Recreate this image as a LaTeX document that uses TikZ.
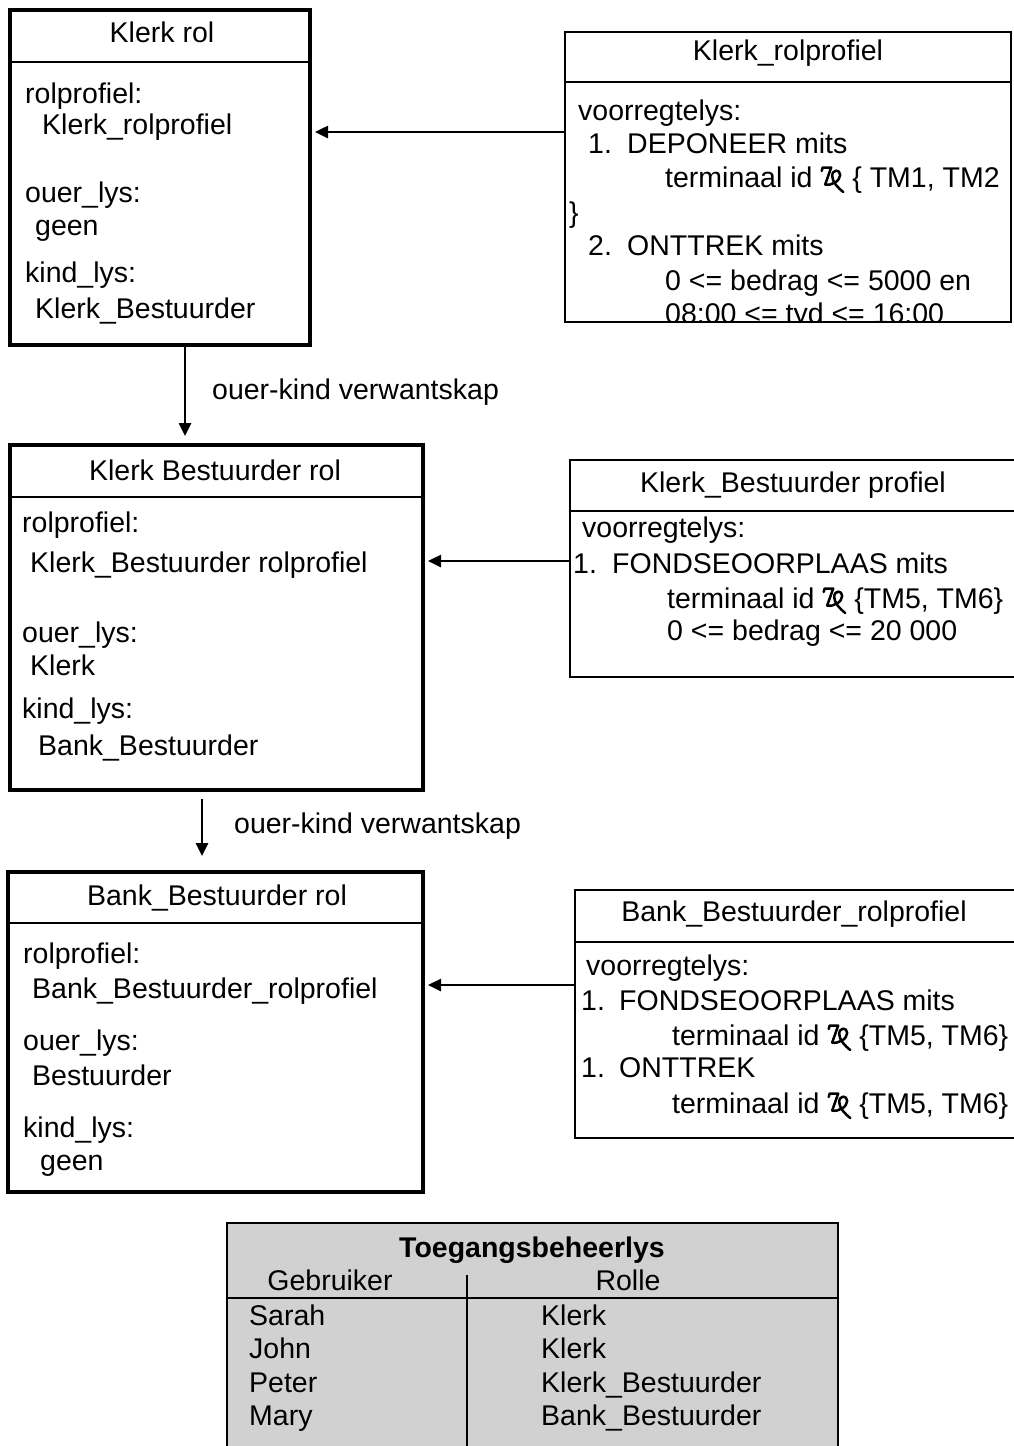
\documentclass[tikz,border=0pt]{standalone}
\usepackage{fontspec}
\setmainfont{Liberation Sans}
\usetikzlibrary{arrows.meta}

% membership sign used in the rule lists
\newcommand\elsym{\tikz[baseline=0pt,x=1pt,y=1pt,line width=2.5pt,line cap=round,line join=round]{%
  \draw (0.5,16) -- (1.5,19.5) -- (10,19.5) -- (4,2.5);
  \draw (4,2.5) .. controls (10,1) and (19,6) .. (19,12)
        .. controls (19,18) and (11,18) .. (11,11)
        .. controls (11,5) and (17,-1) .. (22,-5);}}

\tikzset{
  rolebox/.style={draw, line width=4pt, inner sep=0pt},
  profbox/.style={draw, line width=2.3pt, inner sep=0pt},
  divline/.style={line width=2.2pt},
  txt/.style={anchor=west, inner sep=0pt, text height=20pt, text depth=6pt},
  ttl/.style={anchor=center, inner sep=0pt, text height=20pt, text depth=6pt},
  arr/.style={line width=2.5pt, -{Triangle[length=13pt,width=12pt]}},
}

\begin{document}
\begin{tikzpicture}[x=1pt,y=-1pt,every node/.append style={font=\fontsize{28.5}{34}\selectfont}]
\useasboundingbox (0,0) rectangle (1014,1446);
\clip (0,0) rectangle (1014,1446);
\fill[white] (0,0) rectangle (1014,1446);

% ---------- role boxes ----------
\node[rolebox, minimum width=300pt, minimum height=335pt] (klerk) at (160,177.5) {};
\draw[divline] (10,62) -- (310,62);
\node[ttl] (klerkT) at (162,35) {Klerk rol};
\node[txt] (k1) at (25,96)  {rolprofiel:};
\node[txt] (k2) at (42,127) {Klerk\_rolprofiel};
\node[txt] (k3) at (25,195) {ouer\_lys:};
\node[txt] (k4) at (35,228) {geen};
\node[txt] (k5) at (25,275) {kind\_lys:};
\node[txt] (k6) at (35,311) {Klerk\_Bestuurder};

\node[rolebox, minimum width=413pt, minimum height=345pt] (kb) at (216.5,617.5) {};
\draw[divline] (10,497) -- (423,497);
\node[ttl] (kbT) at (215,473) {Klerk Bestuurder rol};
\node[txt] (b1) at (22,525) {rolprofiel:};
\node[txt] (b2) at (30,565) {Klerk\_Bestuurder rolprofiel};
\node[txt] (b3) at (22,635) {ouer\_lys:};
\node[txt] (b4) at (30,668) {Klerk};
\node[txt] (b5) at (22,711) {kind\_lys:};
\node[txt] (b6) at (38,748) {Bank\_Bestuurder};

\node[rolebox, minimum width=415pt, minimum height=320pt] (bb) at (215.5,1032) {};
\draw[divline] (8,923) -- (423,923);
\node[ttl] (bbT) at (217,898) {Bank\_Bestuurder rol};
\node[txt] (c1) at (23,956)  {rolprofiel:};
\node[txt] (c2) at (32,991)  {Bank\_Bestuurder\_rolprofiel};
\node[txt] (c3) at (23,1043) {ouer\_lys:};
\node[txt] (c4) at (32,1078) {Bestuurder};
\node[txt] (c5) at (23,1130) {kind\_lys:};
\node[txt] (c6) at (40,1163) {geen};

% ---------- profile boxes ----------
\node[profbox, minimum width=446pt, minimum height=290pt] (kp) at (788,177) {};
\draw[divline] (565,82) -- (1011,82);
\node[ttl] (kpT) at (788,53) {Klerk\_rolprofiel};
\begin{scope}
  \clip (565,82) rectangle (1011,320);
  \node[txt] (p1) at (578,113) {voorregtelys:};
  \node[txt] (p2) at (588,146) {1.};
  \node[txt] (p3) at (627,146) {DEPONEER mits};
  \node[txt] (p4) at (665,180) {terminaal id \elsym\ \{ TM1, TM2};
  \node[txt] (p5) at (569,215) {\}};
  \node[txt] (p6) at (588,248) {2.};
  \node[txt] (p7) at (627,248) {ONTTREK mits};
  \node[txt] (p8) at (665,283) {0 <= bedrag <= 5000 en};
  \node[txt] (p9) at (665,316) {08:00 <= tyd <= 16:00};
\end{scope}
\draw[line width=2.3pt] (565,32) rectangle (1011,322);

\node[profbox, minimum width=450pt, minimum height=217pt] (kbp) at (795,568.5) {};
\draw[divline] (570,511) -- (1020,511);
\node[ttl] (kbpT) at (793,485) {Klerk\_Bestuurder profiel};
\node[txt] (q1) at (582,530) {voorregtelys:};
\node[txt] (q2) at (573,566) {1.};
\node[txt] (q3) at (612,566) {FONDSEOORPLAAS mits};
\node[txt] (q4) at (667,601) {terminaal id \elsym\ \{TM5, TM6\}};
\node[txt] (q5) at (667,633) {0 <= bedrag <= 20 000};

\node[profbox, minimum width=445pt, minimum height=248pt] (bbp) at (797.5,1014) {};
\draw[divline] (575,942) -- (1020,942);
\node[ttl] (bbpT) at (794,914) {Bank\_Bestuurder\_rolprofiel};
\node[txt] (r1) at (586,968)  {voorregtelys:};
\node[txt] (r2) at (581,1003) {1.};
\node[txt] (r3) at (619,1003) {FONDSEOORPLAAS mits};
\node[txt] (r4) at (672,1038) {terminaal id \elsym\ \{TM5, TM6\}};
\node[txt] (r5) at (581,1070) {1.};
\node[txt] (r6) at (619,1070) {ONTTREK};
\node[txt] (r7) at (672,1106) {terminaal id \elsym\ \{TM5, TM6\}};

% ---------- connectors ----------
\coordinate (h1) at (0,132);
\coordinate (h2) at (0,561);
\coordinate (h3) at (0,985);
\draw[arr, shorten >=3pt] (kp.west |- h1) -- (klerk.east |- h1);
\draw[arr, shorten >=3pt] (kbp.west |- h2) -- (kb.east |- h2);
\draw[arr, shorten >=3pt] (bbp.west |- h3) -- (bb.east |- h3);

\coordinate (v1) at (185,0);
\coordinate (v2) at (202,0);
\draw[arr, shorten >=7pt] (klerk.south -| v1) -- (kb.north -| v1);
\draw[arr, shorten <=7pt, shorten >=14pt] (kb.south -| v2) -- (bb.north -| v2);
\node[txt] (lab1) at (212,392) {ouer-kind verwantskap};
\node[txt] (lab2) at (234,826) {ouer-kind verwantskap};

% ---------- access control list ----------
\node[draw, line width=2pt, fill=black!18, inner sep=0pt,
      minimum width=611pt, minimum height=240pt] (acl) at (532.5,1343) {};
\draw[line width=2pt] (227,1298) -- (838,1298);
\draw[line width=1.6pt] (467,1275) -- (467,1470);
\node[ttl, font=\fontsize{28.5}{34}\selectfont\bfseries] (aclT) at (532,1250) {Toegangsbeheerlys};
\node[ttl] (g0) at (330,1283) {Gebruiker};
\node[ttl] (r0) at (628,1283) {Rolle};
\node[txt] (g1) at (249,1318) {Sarah};
\node[txt] (g2) at (249,1351) {John};
\node[txt] (g3) at (249,1385) {Peter};
\node[txt] (g4) at (249,1418) {Mary};
\node[txt] (o1) at (541,1318) {Klerk};
\node[txt] (o2) at (541,1351) {Klerk};
\node[txt] (o3) at (541,1385) {Klerk\_Bestuurder};
\node[txt] (o4) at (541,1418) {Bank\_Bestuurder};
\end{tikzpicture}
\end{document}
